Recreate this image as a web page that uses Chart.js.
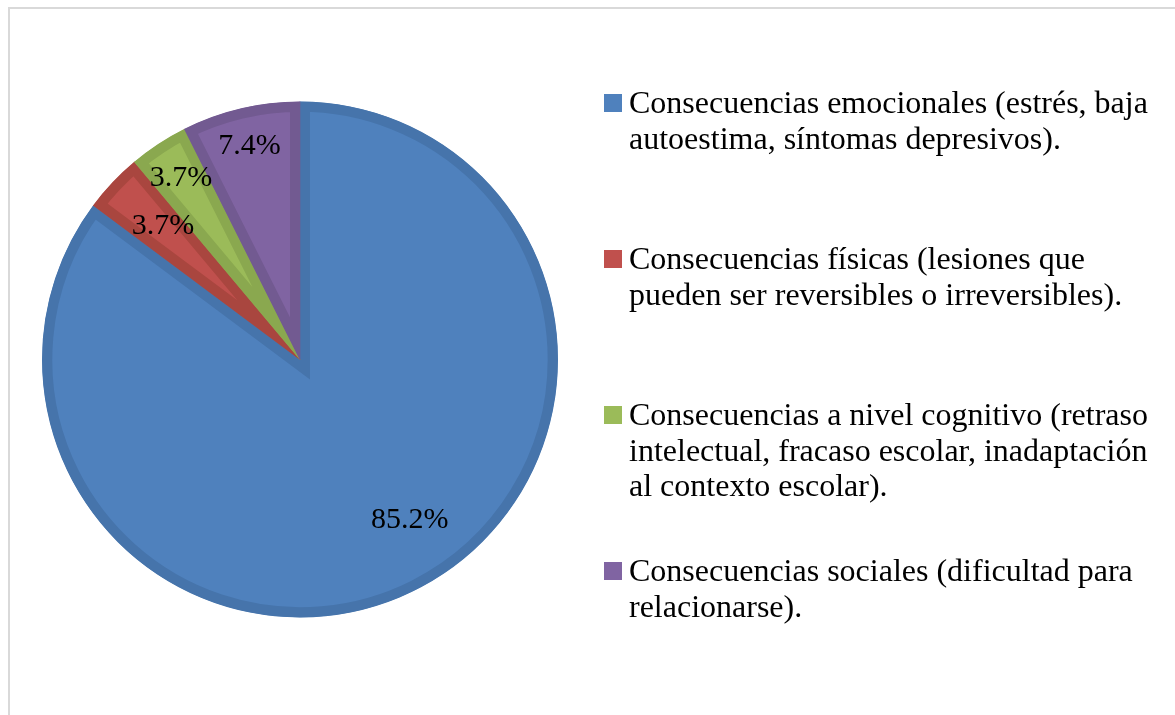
<!DOCTYPE html>
<html>
<head>
<meta charset="utf-8">
<script src="https://cdn.jsdelivr.net/npm/chart.js@4"></script>
<style>
  html, body { margin: 0; padding: 0; background: #fff; }
  #wrap { position: relative; width: 1175px; height: 715px; overflow: hidden; }
  #frame { position: absolute; left: 8px; top: 7px; width: 1200px; height: 740px; border: 2px solid #d9d9d9; box-sizing: border-box; }
  canvas { position: absolute; left: 0; top: 0; }
</style>
</head>
<body>
<div id="wrap">
  <div id="frame"></div>
  <canvas id="pie" width="1175" height="715"></canvas>
</div>
<script>
const categories = [
  ['Consecuencias emocionales (estrés, baja', 'autoestima, síntomas depresivos).'],
  ['Consecuencias físicas (lesiones que', 'pueden ser reversibles o irreversibles).'],
  ['Consecuencias a nivel cognitivo (retraso', 'intelectual, fracaso escolar, inadaptación', 'al contexto escolar).'],
  ['Consecuencias sociales (dificultad para', 'relacionarse).']
];
const percentages = [85.2, 3.7, 3.7, 7.4];
const fills = ['#4f81bd', '#c0504d', '#9bbb59', '#8064a2'];
const edges = ['#4674ab', '#a9463f', '#8aa84f', '#725a91'];
// where each percentage sits: share of the radius, share of the slice's sweep
const labelRadius = [0.755, 0.74, 0.84, 0.85];
const labelSweep = [0.475, 0.56, 0.5, 0.5];

const serif = '"Liberation Serif", "Times New Roman", serif';

const sliceLabels = {
  id: 'sliceLabels',
  afterDatasetsDraw(chart) {
    const ctx = chart.ctx;
    const arcs = chart.getDatasetMeta(0).data;
    ctx.save();
    ctx.font = '30px ' + serif;
    ctx.fillStyle = '#000';
    ctx.textAlign = 'center';
    ctx.textBaseline = 'middle';
    arcs.forEach((arc, i) => {
      const a = arc.startAngle + (arc.endAngle - arc.startAngle) * labelSweep[i];
      const r = arc.outerRadius * labelRadius[i];
      ctx.fillText(percentages[i].toFixed(1) + '%', arc.x + Math.cos(a) * r, arc.y + Math.sin(a) * r);
    });
    ctx.restore();
  }
};

const sideLegend = {
  id: 'sideLegend',
  afterDraw(chart) {
    const ctx = chart.ctx;
    ctx.save();
    ctx.font = '32px ' + serif;
    ctx.textBaseline = 'alphabetic';
    categories.forEach((lines, i) => {
      const base = 113 + i * 156;
      ctx.fillStyle = fills[i];
      ctx.fillRect(604, base - 19, 18, 18);
      ctx.fillStyle = '#000';
      lines.forEach((line, j) => ctx.fillText(line, 629, base + j * 35.5));
    });
    ctx.restore();
  }
};

new Chart(document.getElementById('pie'), {
  type: 'pie',
  data: {
    labels: categories,
    datasets: [{
      data: percentages,
      backgroundColor: fills,
      borderColor: edges,
      borderWidth: 10,
      borderAlign: 'inner',
      borderJoinStyle: 'miter',
      hoverOffset: 0
    }]
  },
  options: {
    responsive: false,
    animation: false,
    events: [],
    layout: { padding: { left: 42, right: 617, top: 101, bottom: 97 } },
    plugins: { legend: { display: false }, tooltip: { enabled: false } }
  },
  plugins: [sliceLabels, sideLegend]
});
</script>
</body>
</html>
